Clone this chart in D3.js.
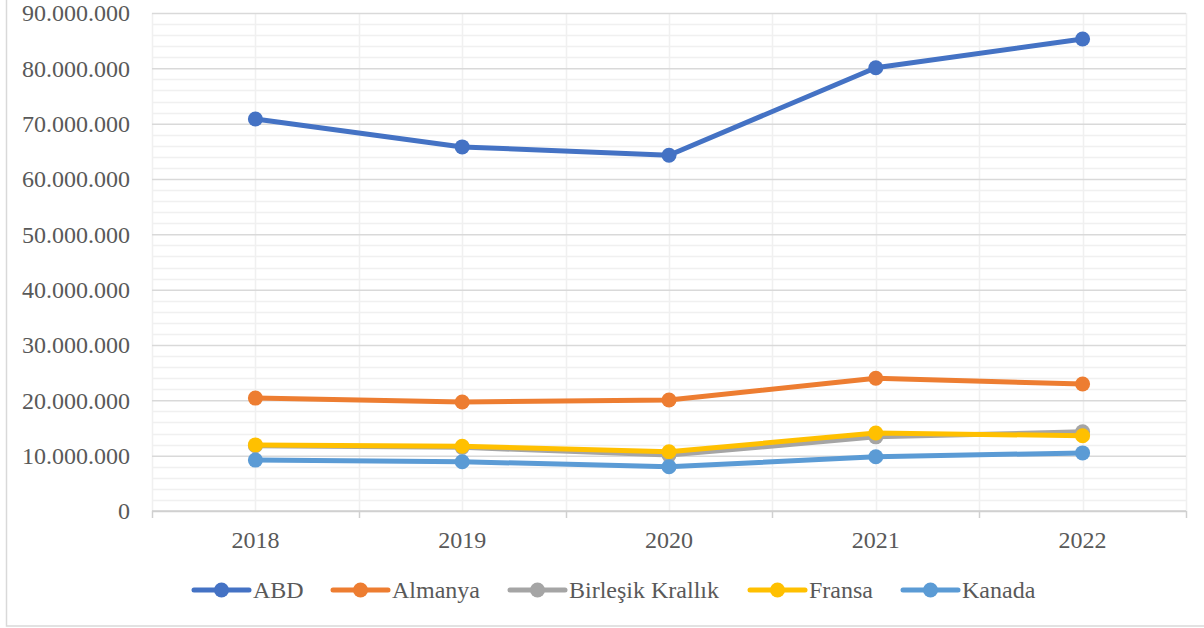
<!DOCTYPE html>
<html>
<head>
<meta charset="utf-8">
<script src="https://cdn.jsdelivr.net/npm/d3@7"></script>
</head>
<body style="margin:0">
<div id="line-container"></div>
<script>
// Data
const years = ["2018", "2019", "2020", "2021", "2022"];
const seriesNames = ["ABD", "Almanya", "Birleşik Krallık", "Fransa", "Kanada"];
const seriesColors = ["#4472C4", "#ED7D31", "#A5A5A5", "#FFC000", "#5B9BD5"];
const abd = [70850000, 65800000, 64300000, 80100000, 85300000];
const almanya = [20400000, 19700000, 20050000, 24000000, 22950000];
const birlesikKrallik = [11800000, 11500000, 10100000, 13400000, 14300000];
const fransa = [11950000, 11700000, 10700000, 14100000, 13600000];
const kanada = [9200000, 8900000, 8000000, 9800000, 10500000];
const yTicks = [0, 10000000, 20000000, 30000000, 40000000, 50000000, 60000000, 70000000, 80000000, 90000000];

const allValues = [abd, almanya, birlesikKrallik, fransa, kanada];
const series = seriesNames.map((name, i) => ({
    name,
    color: seriesColors[i],
    values: years.map((y, j) => ({ year: y, value: allValues[i][j] }))
}));

const width = 1204;
const height = 628;
const marginLeft = 152;
const marginRight = 18;
const marginTop = 13;
const marginBottom = 117;
const textColor = "#595959";

// Apply the serif face to a text selection
function serif(sel) {
    sel.attr("font-size", 24)
        .style("font-family", '"Liberation Serif", serif')
        .attr("fill", textColor);
}

const svg = d3.select("#line-container")
    .append("svg")
    .attr("width", width)
    .attr("height", height)
    .style("display", "block");

// Outer border
svg.append("rect")
    .attr("x", 6.5)
    .attr("y", -5)
    .attr("width", width + 10)
    .attr("height", 631)
    .attr("fill", "none")
    .attr("stroke", "#d9d9d9")
    .attr("stroke-width", 1.5);

const x = d3.scaleBand()
    .domain(years)
    .range([marginLeft, width - marginRight]);

const y = d3.scaleLinear()
    .domain([0, 90000000])
    .range([height - marginBottom, marginTop]);

// Minor horizontal gridlines (every 2M)
const minorTicks = d3.range(0, 90000001, 2000000).filter(v => v % 10000000 !== 0);
svg.append("g")
    .selectAll("line")
    .data(minorTicks)
    .join("line")
    .attr("x1", marginLeft)
    .attr("x2", width - marginRight)
    .attr("y1", d => Math.round(y(d)) + 0.5)
    .attr("y2", d => Math.round(y(d)) + 0.5)
    .attr("stroke", "#f0f0f0")
    .attr("stroke-width", 1.5);

// Minor vertical gridlines (band edges and centers)
const vLines = [];
years.forEach(yr => {
    vLines.push(x(yr));
    vLines.push(x(yr) + x.bandwidth() / 2);
});
vLines.push(width - marginRight);
svg.append("g")
    .selectAll("line")
    .data(vLines)
    .join("line")
    .attr("x1", d => Math.round(d) + 0.5)
    .attr("x2", d => Math.round(d) + 0.5)
    .attr("y1", marginTop)
    .attr("y2", height - marginBottom)
    .attr("stroke", "#f0f0f0")
    .attr("stroke-width", 1.5);

// Major gridlines + y axis labels
svg.append("g")
    .attr("transform", `translate(${marginLeft},0)`)
    .call(d3.axisLeft(y).tickValues(yTicks)
        .tickSize(-(width - marginLeft - marginRight))
        .tickPadding(22)
        .tickFormat(d => d === 0 ? "0" : d3.format(",")(d).replace(/,/g, ".")))
    .call(g => g.select(".domain").remove())
    .call(g => g.selectAll(".tick line")
        .attr("stroke", d => d === 0 ? "#d0d0d0" : "#d9d9d9")
        .attr("stroke-width", 1.5))
    .call(g => g.selectAll(".tick text").call(serif));

// X axis with ticks at band boundaries
const xAxisG = svg.append("g")
    .attr("transform", `translate(0,${height - marginBottom})`);
xAxisG.append("line")
    .attr("x1", marginLeft)
    .attr("x2", width - marginRight)
    .attr("stroke", "#d0d0d0")
    .attr("stroke-width", 1.5);
xAxisG.selectAll(".edge")
    .data(years.map(yr => x(yr)).concat([width - marginRight]))
    .join("line")
    .attr("class", "edge")
    .attr("x1", d => Math.round(d) + 0.5)
    .attr("x2", d => Math.round(d) + 0.5)
    .attr("y1", 0)
    .attr("y2", 7)
    .attr("stroke", "#d0d0d0")
    .attr("stroke-width", 1.5);
xAxisG.selectAll(".lbl")
    .data(years)
    .join("text")
    .attr("class", "lbl")
    .attr("x", d => x(d) + x.bandwidth() / 2)
    .attr("y", 37)
    .attr("text-anchor", "middle")
    .call(serif)
    .text(d => d);

// Lines
const line = d3.line()
    .x(d => x(d.year) + x.bandwidth() / 2)
    .y(d => y(d.value));

const sg = svg.append("g")
    .selectAll("g")
    .data(series)
    .join("g");

sg.append("path")
    .attr("d", d => line(d.values))
    .attr("fill", "none")
    .attr("stroke", d => d.color)
    .attr("stroke-width", 5)
    .attr("stroke-linejoin", "round")
    .attr("stroke-linecap", "round");

sg.selectAll("circle")
    .data(d => d.values.map(v => ({ ...v, color: d.color })))
    .join("circle")
    .attr("cx", d => x(d.year) + x.bandwidth() / 2)
    .attr("cy", d => y(d.value))
    .attr("r", 7.5)
    .attr("fill", d => d.color);

// Legend
const legendX = [194, 333, 510, 750, 903];
const legendY = 590;
const lg = svg.append("g")
    .selectAll("g")
    .data(series)
    .join("g")
    .attr("transform", (d, i) => `translate(${legendX[i]},${legendY})`);

lg.append("line")
    .attr("x1", 0)
    .attr("x2", 55)
    .attr("stroke", d => d.color)
    .attr("stroke-width", 5)
    .attr("stroke-linecap", "round");

lg.append("circle")
    .attr("cx", 27.5)
    .attr("r", 7.5)
    .attr("fill", d => d.color);

lg.append("text")
    .attr("x", 59)
    .attr("y", 8)
    .call(serif)
    .text(d => d.name);
</script>
</body>
</html>
